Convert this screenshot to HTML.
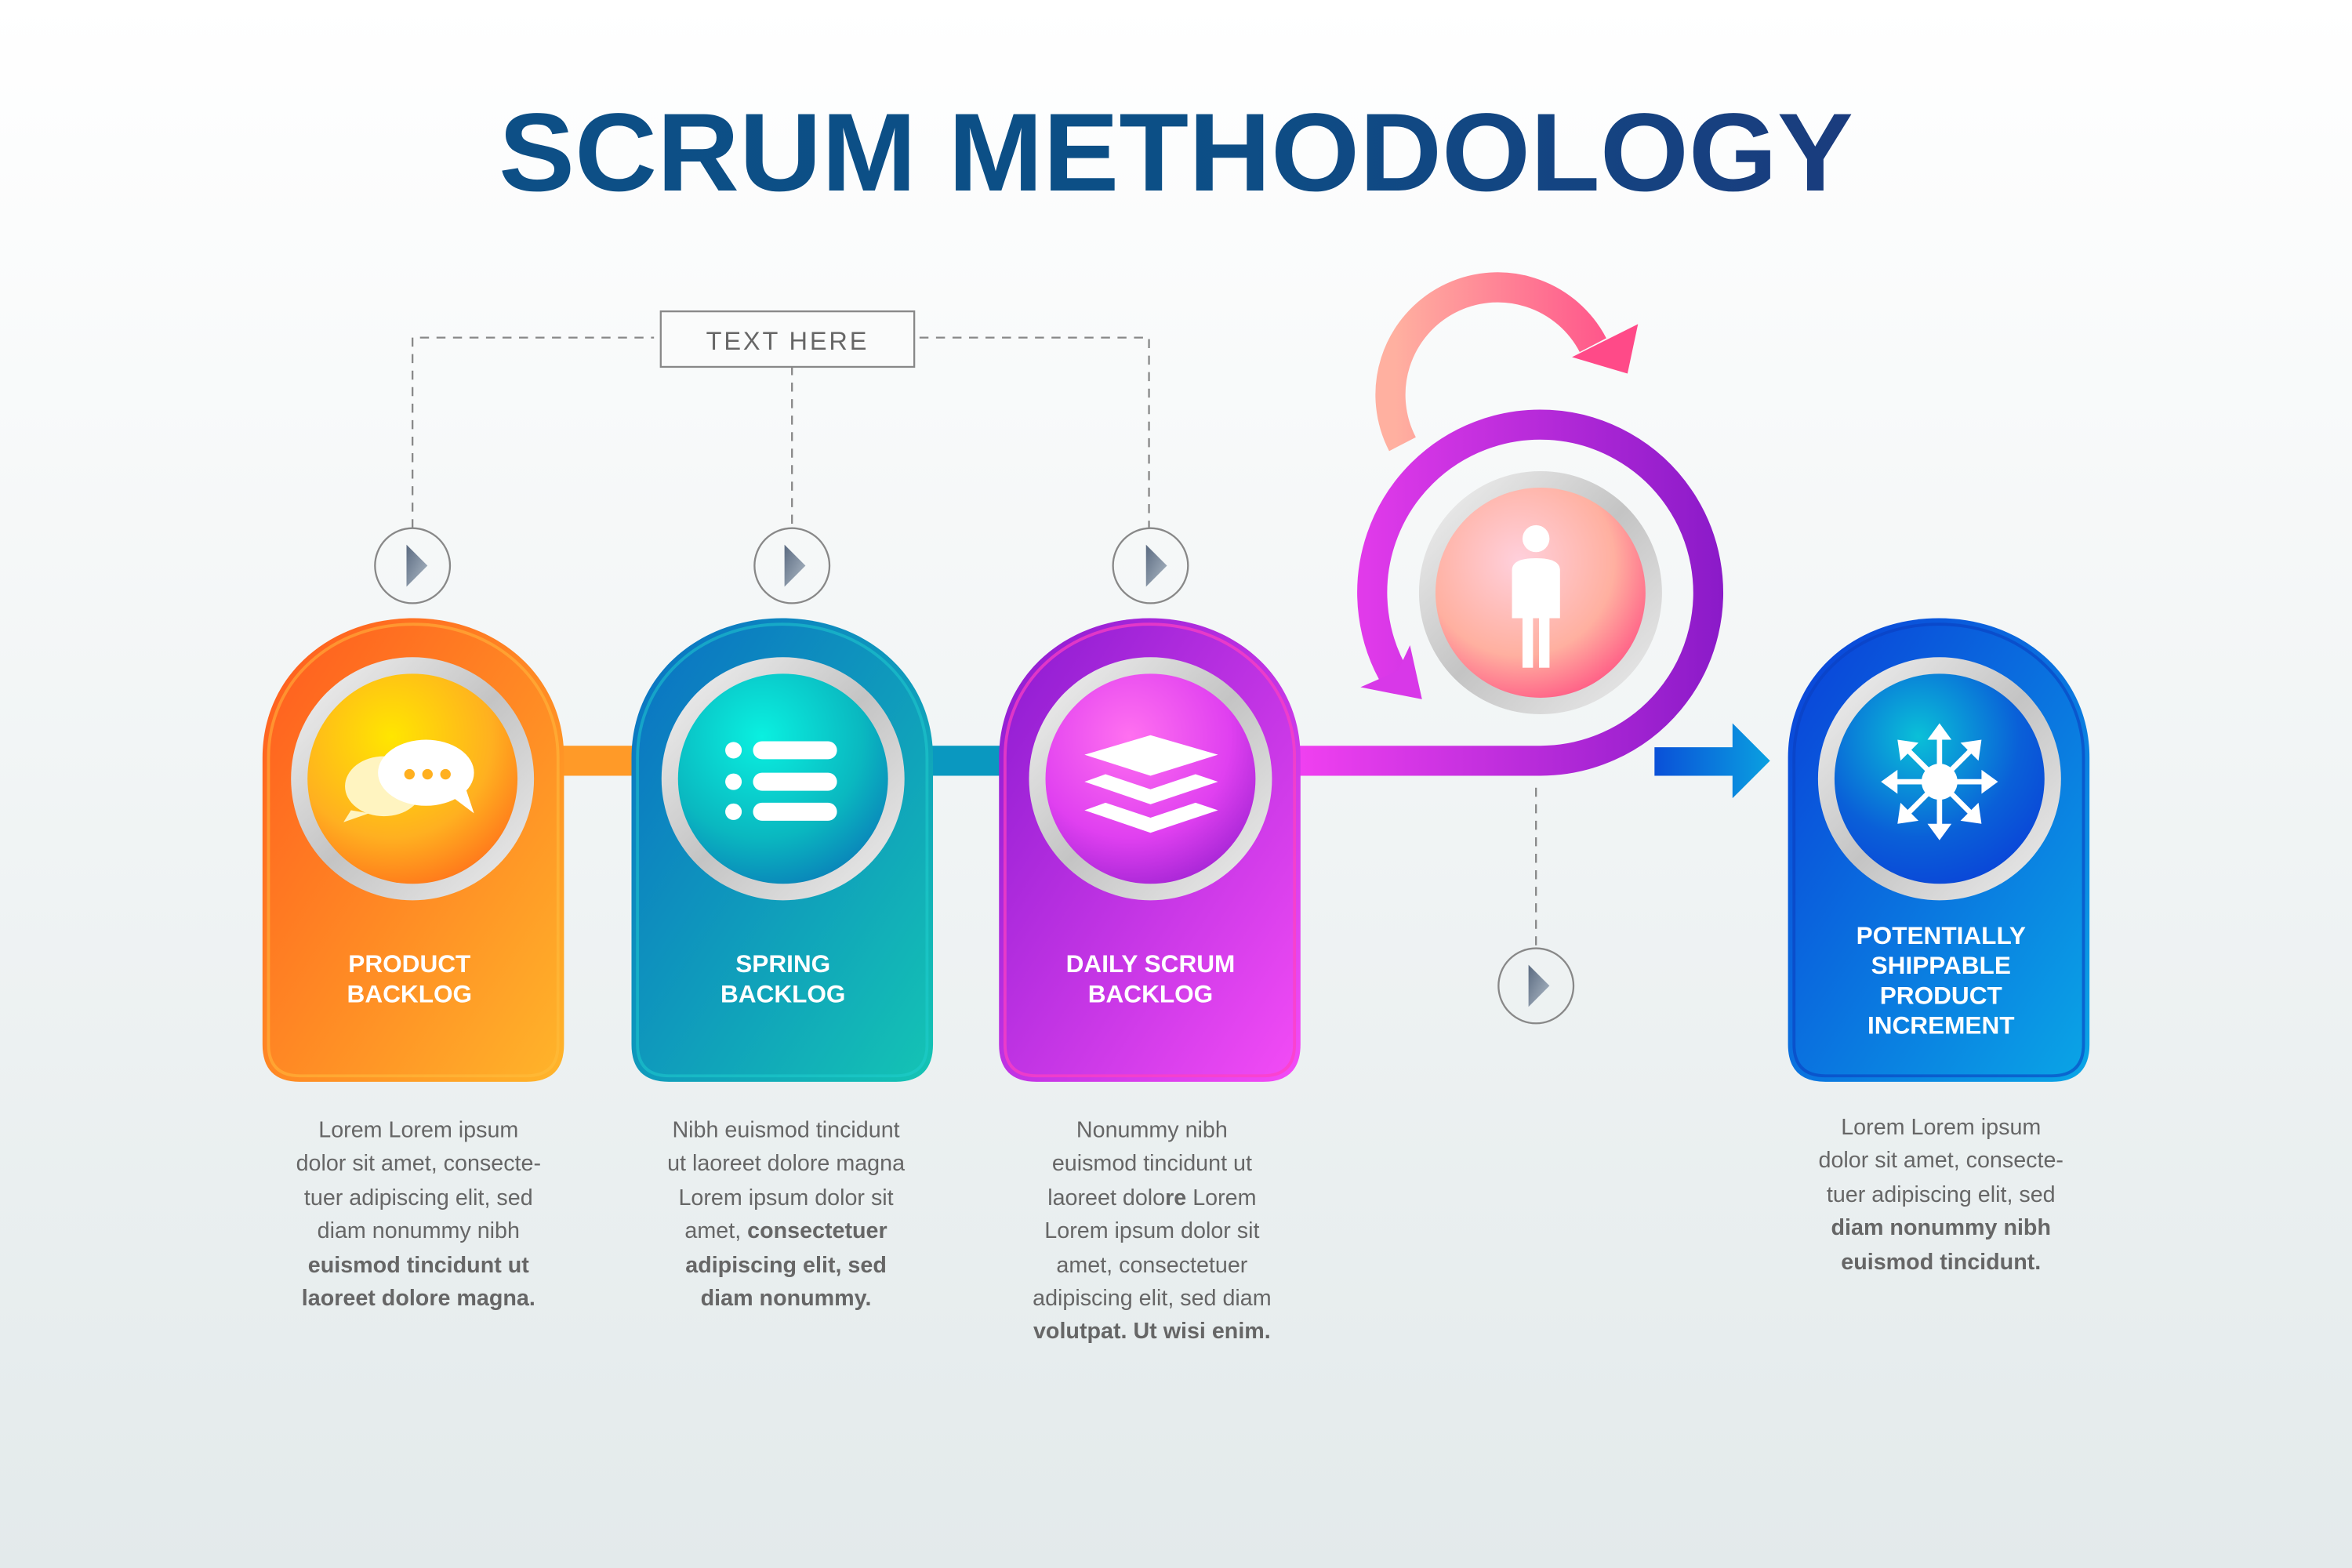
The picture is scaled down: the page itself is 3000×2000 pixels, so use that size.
<!DOCTYPE html>
<html><head><meta charset="utf-8"><style>
html,body{margin:0;padding:0;width:3000px;height:2000px;overflow:hidden}
svg{display:block}
text{font-family:"Liberation Sans",sans-serif}
</style></head><body>
<svg width="3000" height="2000" viewBox="0 0 1568 1045" preserveAspectRatio="none" xmlns="http://www.w3.org/2000/svg">
<defs>
<linearGradient id="bg" x1="0" y1="0" x2="0" y2="1"><stop offset="0" stop-color="#ffffff"/><stop offset="1" stop-color="#e3eaeb"/></linearGradient>
<linearGradient id="title" x1="0" y1="0" x2="1" y2="0"><stop offset="0" stop-color="#0d4f86"/><stop offset="0.5" stop-color="#0c4f86"/><stop offset="1" stop-color="#1a3c7e"/></linearGradient>
<linearGradient id="c1" x1="0" y1="0" x2="1" y2="1"><stop offset="0" stop-color="#ff5a1e"/><stop offset="1" stop-color="#ffb52a"/></linearGradient>
<linearGradient id="c2" x1="0" y1="0" x2="1" y2="1"><stop offset="0" stop-color="#0a6fc4"/><stop offset="1" stop-color="#14c4b4"/></linearGradient>
<linearGradient id="c3" x1="0" y1="0" x2="1" y2="1"><stop offset="0" stop-color="#8a1ad0"/><stop offset="1" stop-color="#f44cf6"/></linearGradient>
<linearGradient id="c5" x1="0" y1="0" x2="1" y2="1"><stop offset="0" stop-color="#0a3ed8"/><stop offset="1" stop-color="#0aa6e6"/></linearGradient>
<linearGradient id="ring" x1="0" y1="0" x2="1" y2="1"><stop offset="0" stop-color="#f4f4f4"/><stop offset="0.5" stop-color="#c4c4c4"/><stop offset="1" stop-color="#eeeeee"/></linearGradient>
<radialGradient id="i1" cx="0.4" cy="0.3" r="0.8"><stop offset="0" stop-color="#ffe600"/><stop offset="0.6" stop-color="#ffb020"/><stop offset="1" stop-color="#ff6a1a"/></radialGradient>
<radialGradient id="i2" cx="0.4" cy="0.3" r="0.8"><stop offset="0" stop-color="#0af0e0"/><stop offset="0.6" stop-color="#0ab8c0"/><stop offset="1" stop-color="#0a78b8"/></radialGradient>
<radialGradient id="i3" cx="0.4" cy="0.3" r="0.8"><stop offset="0" stop-color="#ff70f0"/><stop offset="0.6" stop-color="#e040f0"/><stop offset="1" stop-color="#9a20d0"/></radialGradient>
<radialGradient id="i4" cx="0.4" cy="0.35" r="0.75"><stop offset="0" stop-color="#ffd0dc"/><stop offset="0.6" stop-color="#ffb0a0"/><stop offset="1" stop-color="#ff4a80"/></radialGradient>
<radialGradient id="i5" cx="0.4" cy="0.3" r="0.8"><stop offset="0" stop-color="#0ac0d8"/><stop offset="0.6" stop-color="#0a60d8"/><stop offset="1" stop-color="#0a40d8"/></radialGradient>
<linearGradient id="loop" x1="866" y1="0" x2="1150" y2="0" gradientUnits="userSpaceOnUse"><stop offset="0" stop-color="#f040f0"/><stop offset="1" stop-color="#8a1ac8"/></linearGradient>
<linearGradient id="pink" x1="930" y1="0" x2="1090" y2="0" gradientUnits="userSpaceOnUse"><stop offset="0" stop-color="#ffb0a0"/><stop offset="1" stop-color="#ff4a88"/></linearGradient>
<linearGradient id="blueA" x1="1103" y1="0" x2="1180" y2="0" gradientUnits="userSpaceOnUse"><stop offset="0" stop-color="#0a50d8"/><stop offset="1" stop-color="#0aa0e0"/></linearGradient>
<linearGradient id="play" x1="0" y1="0" x2="1" y2="1"><stop offset="0" stop-color="#5a6a80"/><stop offset="1" stop-color="#b0bcc8"/></linearGradient>
<path id="card" d="M25,309 Q0,309 0,284 L0,93 C0,38 45,0 100.5,0 C156,0 201,38 201,93 L201,284 Q201,309 176,309 Z"/>
</defs>
<rect width="1568" height="1045" fill="url(#bg)"/>

<text x="784" y="127" text-anchor="middle" font-size="74" font-weight="bold" fill="url(#title)" textLength="903" lengthAdjust="spacingAndGlyphs">SCRUM METHODOLOGY</text>

<g stroke="#888" stroke-width="1.2" stroke-dasharray="6,5" fill="none">
<path d="M275,352 V225 H436"/>
<path d="M613,225 H766 V352"/>
<path d="M528,244 V352"/>
<path d="M1024,525 V632"/>
</g>
<rect x="440.5" y="207.5" width="169" height="37" fill="#fafbfb" stroke="#888" stroke-width="1.2"/>
<text x="525" y="233" text-anchor="middle" font-size="17" fill="#666" letter-spacing="1.5">TEXT HERE</text>

<g fill="none" stroke="#888" stroke-width="1.2">
<circle cx="275" cy="377" r="25"/><circle cx="528" cy="377" r="25"/><circle cx="767" cy="377" r="25"/><circle cx="1024" cy="657" r="25"/>
</g>
<g fill="url(#play)">
<path d="M271,363 L285,377 L271,391 Z"/><path d="M523,363 L537,377 L523,391 Z"/><path d="M764,363 L778,377 L764,391 Z"/><path d="M1019,643 L1033,657 L1019,671 Z"/>
</g>

<rect x="370" y="497" width="58" height="20" fill="#ff9a28"/>
<rect x="616" y="497" width="56" height="20" fill="#0a98c0"/>

<path d="M860,507 L1027,507 A112,112 0 1 0 931,453" fill="none" stroke="url(#loop)" stroke-width="20"/>
<path d="M907,458 L948,466 L940,430 L932,447 Z" fill="#d838e8"/>
<path d="M935,296 A70,70 0 0 1 1062,230" fill="none" stroke="url(#pink)" stroke-width="20"/>
<path d="M1048,238 L1085,249 L1092,216 Z" fill="#ff4a88"/>
<path d="M1103,498 H1155 V482 L1180,507 L1155,532 V517 H1103 Z" fill="url(#blueA)"/>

<g transform="translate(175,412)"><use href="#card" fill="url(#c1)"/><path d="M25,305 Q4,305 4,284 L4,93 C4,41 47,4 100.5,4 C154,4 197,41 197,93 L197,284 Q197,305 176,305 Z" fill="none" stroke="#ffc040" stroke-opacity="0.5" stroke-width="2"/></g>
<g transform="translate(421,412)"><use href="#card" fill="url(#c2)"/><path d="M25,305 Q4,305 4,284 L4,93 C4,41 47,4 100.5,4 C154,4 197,41 197,93 L197,284 Q197,305 176,305 Z" fill="none" stroke="#20d0d0" stroke-opacity="0.5" stroke-width="2"/></g>
<g transform="translate(666,412)"><use href="#card" fill="url(#c3)"/><path d="M25,305 Q4,305 4,284 L4,93 C4,41 47,4 100.5,4 C154,4 197,41 197,93 L197,284 Q197,305 176,305 Z" fill="none" stroke="#ff40c0" stroke-opacity="0.7" stroke-width="2"/></g>
<g transform="translate(1192,412)"><use href="#card" fill="url(#c5)"/><path d="M25,305 Q4,305 4,284 L4,93 C4,41 47,4 100.5,4 C154,4 197,41 197,93 L197,284 Q197,305 176,305 Z" fill="none" stroke="#0a40c0" stroke-opacity="0.6" stroke-width="2"/></g>

<g>
<circle cx="275" cy="519" r="81" fill="url(#ring)"/><circle cx="275" cy="519" r="70" fill="url(#i1)"/>
<circle cx="522" cy="519" r="81" fill="url(#ring)"/><circle cx="522" cy="519" r="70" fill="url(#i2)"/>
<circle cx="767" cy="519" r="81" fill="url(#ring)"/><circle cx="767" cy="519" r="70" fill="url(#i3)"/>
<circle cx="1027" cy="395" r="81" fill="url(#ring)"/><circle cx="1027" cy="395" r="70" fill="url(#i4)"/>
<circle cx="1293" cy="519" r="81" fill="url(#ring)"/><circle cx="1293" cy="519" r="70" fill="url(#i5)"/>
</g>

<g fill="#fff">
<ellipse cx="256" cy="524" rx="26" ry="20" fill="#fff4c0"/>
<path d="M234,540 L229,548 L246,542 Z" fill="#fff4c0"/>
<ellipse cx="284" cy="515" rx="32" ry="22"/>
<path d="M300,530 L316,542 L310,524 Z"/>
<g fill="#ffb020"><circle cx="273" cy="516" r="3.5"/><circle cx="285" cy="516" r="3.5"/><circle cx="297" cy="516" r="3.5"/></g>

<circle cx="489" cy="500" r="5.5"/><circle cx="489" cy="521" r="5.5"/><circle cx="489" cy="541" r="5.5"/>
<rect x="502" y="494" width="56" height="12" rx="6"/><rect x="502" y="515" width="56" height="12" rx="6"/><rect x="502" y="535" width="56" height="12" rx="6"/>

<path d="M723,503 L767,490 L812,503 L767,517 Z"/>
<path d="M723,521 L737,516 L767,526 L797,516 L812,521 L767,536 Z"/>
<path d="M723,540 L737,535 L767,545 L797,535 L812,540 L767,555 Z"/>

<circle cx="1024" cy="359" r="9"/>
<path d="M1008,380 Q1008,372 1024,372 Q1040,372 1040,380 L1040,412 L1008,412 Z"/>
<rect x="1015" y="410" width="7" height="35"/><rect x="1026" y="410" width="7" height="35"/>

<circle cx="1293" cy="521" r="12"/>
<g stroke="#fff" stroke-width="3.5">
<line x1="1293" y1="521" x2="1293" y2="490"/><line x1="1293" y1="521" x2="1293" y2="552"/>
<line x1="1293" y1="521" x2="1262" y2="521"/><line x1="1293" y1="521" x2="1324" y2="521"/>
<line x1="1293" y1="521" x2="1271" y2="499"/><line x1="1293" y1="521" x2="1315" y2="499"/>
<line x1="1293" y1="521" x2="1271" y2="543"/><line x1="1293" y1="521" x2="1315" y2="543"/>
</g>
<path d="M1293,482 L1285,493 L1301,493 Z"/><path d="M1293,560 L1285,549 L1301,549 Z"/>
<path d="M1254,521 L1265,513 L1265,529 Z"/><path d="M1332,521 L1321,513 L1321,529 Z"/>
<path d="M1265,493 L1279,495 L1267,507 Z"/><path d="M1321,493 L1307,495 L1319,507 Z"/>
<path d="M1265,549 L1279,547 L1267,535 Z"/><path d="M1321,549 L1307,547 L1319,535 Z"/>
</g>

<g font-size="16.5" font-weight="bold" fill="#fff" text-anchor="middle">
<text x="273" y="648">PRODUCT</text><text x="273" y="668">BACKLOG</text>
<text x="522" y="648">SPRING</text><text x="522" y="668">BACKLOG</text>
<text x="767" y="648">DAILY SCRUM</text><text x="767" y="668">BACKLOG</text>
<text x="1294" y="629">POTENTIALLY</text><text x="1294" y="649">SHIPPABLE</text><text x="1294" y="669">PRODUCT</text><text x="1294" y="689">INCREMENT</text>
</g>

<g font-size="15" fill="#666" text-anchor="middle">
<text x="279" y="758">Lorem Lorem ipsum</text>
<text x="279" y="780">dolor sit amet, consecte-</text>
<text x="279" y="803">tuer adipiscing elit, sed</text>
<text x="279" y="825">diam nonummy nibh</text>
<text x="279" y="848" font-weight="bold">euismod tincidunt ut</text>
<text x="279" y="870" font-weight="bold">laoreet dolore magna.</text>

<text x="524" y="758">Nibh euismod tincidunt</text>
<text x="524" y="780">ut laoreet dolore magna</text>
<text x="524" y="803">Lorem ipsum dolor sit</text>
<text x="524" y="825">amet, <tspan font-weight="bold">consectetuer</tspan></text>
<text x="524" y="848" font-weight="bold">adipiscing elit, sed</text>
<text x="524" y="870" font-weight="bold">diam nonummy.</text>

<text x="768" y="758">Nonummy nibh</text>
<text x="768" y="780">euismod tincidunt ut</text>
<text x="768" y="803">laoreet dolo<tspan font-weight="bold">re</tspan> Lorem</text>
<text x="768" y="825">Lorem ipsum dolor sit</text>
<text x="768" y="848">amet, consectetuer</text>
<text x="768" y="870">adipiscing elit, sed diam</text>
<text x="768" y="892" font-weight="bold">volutpat. Ut wisi enim.</text>

<text x="1294" y="756">Lorem Lorem ipsum</text>
<text x="1294" y="778">dolor sit amet, consecte-</text>
<text x="1294" y="801">tuer adipiscing elit, sed</text>
<text x="1294" y="823" font-weight="bold">diam nonummy nibh</text>
<text x="1294" y="846" font-weight="bold">euismod tincidunt.</text>
</g>
</svg>
</body></html>
